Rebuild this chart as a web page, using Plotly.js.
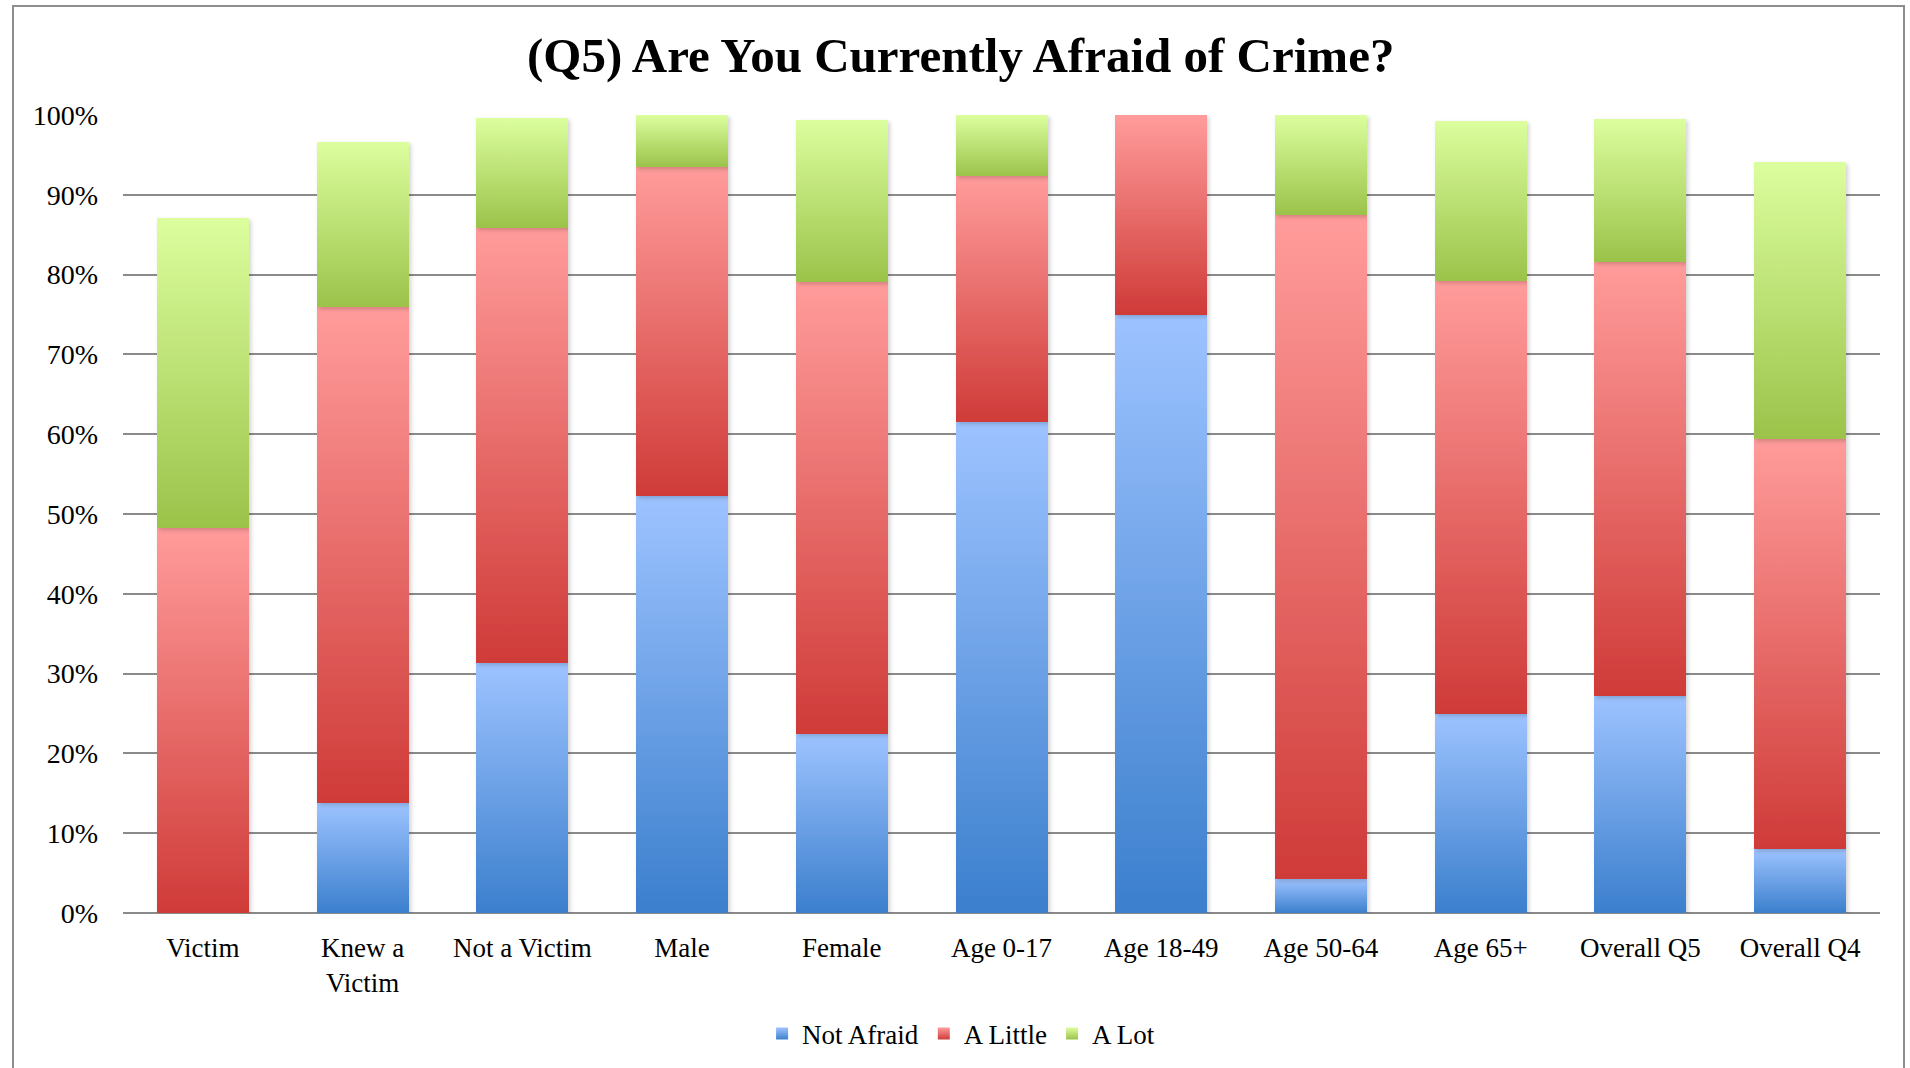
<!DOCTYPE html>
<html>
<head>
<meta charset="utf-8">
<script src="https://cdn.plot.ly/plotly-3.0.1.min.js"></script>
<style>
  html, body { margin: 0; padding: 0; background: #fff; overflow: hidden; }
  #chart { position: absolute; left: 0; top: 0; width: 1910px; height: 1068px; }
  #frame { position: absolute; left: 12px; top: 5px; width: 1893px; height: 1200px;
           border: 2px solid #8e8e8e; pointer-events: none; box-sizing: border-box; }
</style>
</head>
<body>
<div id="chart"></div>
<div id="frame"></div>
<script>
// ---- data (percent of respondents) ----
const categories = ["Victim", "Knew a<br>Victim", "Not a Victim", "Male", "Female",
                    "Age 0-17", "Age 18-49", "Age 50-64", "Age 65+", "Overall Q5", "Overall Q4"];
const notAfraid = [0, 13.8, 31.3, 52.2, 22.4, 61.5, 75.0, 4.2, 25.0, 27.2, 8.0];
const aLittle   = [48.3, 62.1, 54.6, 41.3, 56.7, 30.8, 25.0, 83.3, 54.2, 54.4, 51.4];
const aLot      = [38.8, 20.7, 13.7, 6.5, 20.3, 7.7, 0, 12.5, 20.1, 17.9, 34.7];
const seriesNames = ["Not Afraid", "A Little", "A Lot"];
const tickVals = [0, 10, 20, 30, 40, 50, 60, 70, 80, 90, 100];

// gradient stops per series (top colour, bottom colour)
const gradients = [
  ["#9dc3ff", "#3b7fcd"],
  ["#ff9c9b", "#cf3b38"],
  ["#dcfe9e", "#9bc34a"]
];
const midColors = ["#6a9fe6", "#e66b69", "#bde074"];

const FONT = "Liberation Serif, Times New Roman, serif";

const traces = [notAfraid, aLittle, aLot].map((vals, i) => ({
  type: "bar",
  name: seriesNames[i],
  x: categories,
  y: vals,
  marker: { color: midColors[i], line: { width: 0 } },
  hoverinfo: "skip"
}));

const layout = {
  width: 1910,
  height: 1068,
  barmode: "stack",
  bargap: 0.424,
  paper_bgcolor: "#ffffff",
  plot_bgcolor: "#ffffff",
  margin: { l: 123, r: 30, t: 115, b: 154.5, pad: 0, autoexpand: false },
  title: {
    text: "<b>(Q5) Are You Currently Afraid of Crime?</b>",
    font: { family: FONT, size: 49, color: "#000" },
    xref: "container", x: 0.503, xanchor: "center",
    yref: "container", y: 1 - 55 / 1068, yanchor: "middle"
  },
  xaxis: {
    type: "category",
    tickfont: { family: FONT, size: 27, color: "#000" },
    showgrid: false,
    showline: false,
    zeroline: false,
    ticks: "",
    ticklabelstandoff: 16,
    fixedrange: true
  },
  yaxis: {
    range: [0, 100],
    tickvals: tickVals,
    ticktext: tickVals.map(v => v + "%"),
    tickfont: { family: FONT, size: 28, color: "#000" },
    showgrid: true,
    gridcolor: "#8a8a8a",
    gridwidth: 2,
    zeroline: true,
    zerolinecolor: "#8a8a8a",
    zerolinewidth: 2,
    showline: false,
    ticks: "",
    ticklabelstandoff: 24,
    fixedrange: true
  },
  legend: {
    orientation: "h",
    x: 0.477, xanchor: "center",
    yref: "container",
    y: 1 - 1034 / 1068, yanchor: "middle",
    font: { family: FONT, size: 27, color: "#000" },
    itemwidth: 30,
    tracegroupgap: 0,
    traceorder: "normal"
  },
  showlegend: true
};

function applyGradients(gd) {
  const svg = gd.querySelector(".main-svg");
  if (!svg) return;
  const NS = "http://www.w3.org/2000/svg";
  let defs = svg.querySelector("defs");
  if (!defs) { defs = document.createElementNS(NS, "defs"); svg.insertBefore(defs, svg.firstChild); }
  gradients.forEach((g, i) => {
    if (document.getElementById("barGrad" + i)) return;
    const lg = document.createElementNS(NS, "linearGradient");
    lg.setAttribute("id", "barGrad" + i);
    lg.setAttribute("x1", "0"); lg.setAttribute("y1", "0");
    lg.setAttribute("x2", "0"); lg.setAttribute("y2", "1");
    const s1 = document.createElementNS(NS, "stop");
    s1.setAttribute("offset", "0"); s1.setAttribute("stop-color", g[0]);
    const s2 = document.createElementNS(NS, "stop");
    s2.setAttribute("offset", "1"); s2.setAttribute("stop-color", g[1]);
    lg.appendChild(s1); lg.appendChild(s2);
    defs.appendChild(lg);
  });
  if (!document.getElementById("barShadow")) {
    const f = document.createElementNS(NS, "filter");
    f.setAttribute("id", "barShadow");
    f.setAttribute("x", "-20%"); f.setAttribute("y", "-5%");
    f.setAttribute("width", "140%"); f.setAttribute("height", "115%");
    const ds = document.createElementNS(NS, "feDropShadow");
    ds.setAttribute("dx", "2"); ds.setAttribute("dy", "2");
    ds.setAttribute("stdDeviation", "2");
    ds.setAttribute("flood-color", "#000"); ds.setAttribute("flood-opacity", "0.18");
    f.appendChild(ds);
    defs.appendChild(f);
  }
  const barTraces = gd.querySelectorAll(".barlayer .trace");
  barTraces.forEach((t, i) => {
    t.querySelectorAll("path").forEach(p => {
      p.style.fill = "url(#barGrad" + i + ")";
      p.setAttribute("filter", "url(#barShadow)");
    });
  });
  const legTraces = gd.querySelectorAll(".legend .traces");
  legTraces.forEach((t, i) => {
    t.querySelectorAll(".legendpoints path").forEach(p => {
      p.style.fill = "url(#barGrad" + i + ")";
    });
  });
}

const gd = document.getElementById("chart");
Plotly.newPlot(gd, traces, layout, { displayModeBar: false, staticPlot: true }).then(() => {
  applyGradients(gd);
  gd.on && gd.on("plotly_afterplot", () => applyGradients(gd));
});
</script>
</body>
</html>
